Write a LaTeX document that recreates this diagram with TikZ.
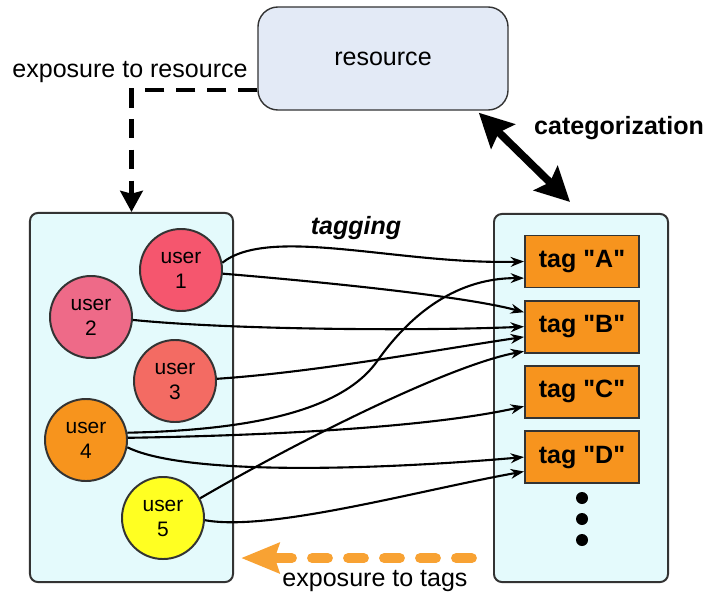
\documentclass[tikz,border=0pt]{standalone}
\usepackage{fontspec}
\setmainfont{Liberation Sans}[Ligatures=TeXOff]
\usepackage{tikz}
\usetikzlibrary{arrows.meta,shapes,positioning,calc}
\definecolor{resfill}{HTML}{E3EAF6}
\definecolor{boxfill}{HTML}{E4FAFC}
\definecolor{edgegray}{HTML}{333333}
\definecolor{tagorange}{HTML}{F7941E}
\definecolor{exporange}{HTML}{F8A233}
\definecolor{userone}{HTML}{F5566E}
\definecolor{usertwo}{HTML}{EE6A88}
\definecolor{userthree}{HTML}{F36B63}
\definecolor{userfour}{HTML}{F7941D}
\definecolor{userfive}{HTML}{FFFF22}

\begin{document}
\begin{tikzpicture}[x=0.025cm, y=-0.025cm]
% STYLES
\tikzset{%
    resbox/.style={%
    rectangle,
    rounded corners=0.5cm,
    draw=edgegray,
    line width=1pt,
    fill=resfill,
    minimum width=6.25cm,
    minimum height=2.575cm,
    font=\fontsize{17.8}{20}\selectfont}
    }
\tikzset{%
    bigbox/.style={%
    rectangle,
    rounded corners=0.2cm,
    draw=edgegray,
    line width=1.4pt,
    fill=boxfill}
    }
\tikzset{%
    usernode/.style={%
    circle,
    draw=edgegray,
    line width=1.4pt,
    inner sep=0pt,
    minimum size=2.05cm,
    align=center,
    font=\fontsize{14.9}{17.8}\selectfont}
    }
\tikzset{%
    tagnode/.style={%
    rectangle,
    draw=edgegray,
    line width=1.4pt,
    fill=tagorange,
    node distance=0.28cm,
    minimum width=2.85cm,
    minimum height=1.3cm,
    font=\bfseries\fontsize{17.8}{20}\selectfont}
    }
\tikzset{%
    plaintext/.style={%
    font=\fontsize{17.8}{20}\selectfont}
    }
\tikzset{%
    tagline/.style={%
    line width=1.5pt,
    -{Stealth[length=9.5pt,width=7pt]}}
    }
\useasboundingbox (0,0) rectangle (716,597);

% Draw boxes
\node [resbox] (res) at (383,58.5) {resource};
\node [bigbox, minimum width=5.075cm, minimum height=9.225cm] (userbox) at (131.5,397.5) {};
\node [bigbox, minimum width=4.35cm, minimum height=9.2cm] (tagbox) at (581,398) {};

% Draw users
\node [usernode, fill=userone] (u1) at (181,270) {user\\1};
\node [usernode, fill=usertwo] (u2) at (91,317) {user\\2};
\node [usernode, fill=userthree] (u3) at (175,381) {user\\3};
\node [usernode, fill=userfour] (u4) at (86,440) {user\\4};
\node [usernode, fill=userfive] (u5) at (163,518) {user\\5};

% Draw tags
\node [tagnode] (tA) at (582,261.5) {tag "A"};
\node [tagnode, below=of tA] (tB) {tag "B"};
\node [tagnode, below=of tB] (tC) {tag "C"};
\node [tagnode, below=of tC] (tD) {tag "D"};
\fill (582,498) circle (0.15cm);
\fill (582,519) circle (0.15cm);
\fill (582,540) circle (0.15cm);

% Labels
\node [plaintext] (exptext) at (130,72) {exposure to resource};
\node [plaintext, font=\bfseries\fontsize{17.8}{20}\selectfont] (cattext) at (619,128) {categorization};
\node [plaintext, font=\bfseries\itshape\fontsize{17.8}{20}\selectfont] (tagtext) at (356,228) {tagging};
\node [plaintext] (exptagtext) at (375,581) {exposure to tags};

% Draw the tagging links
\draw [tagline] (u1.10) .. controls (270,225) and (400,265) .. (tA.west);
\draw [tagline] (u1.-5) .. controls (300,280) and (460,295) .. (tB.166);
\draw [tagline] (u2.-4) .. controls (233,330) and (425,331) .. (tB.west);
\draw [tagline] (u3.3) .. controls (317,372) and (435,350) .. (tB.190);
\draw [tagline] (u4.10) .. controls (260,430) and (345,408) .. (378,360)
    .. controls (405,322) and (450,278) .. (tA.196);
\draw [tagline] (u4.3) .. controls (300,435) and (440,425) .. (tC.194);
\draw [tagline] (u4.-10) .. controls (190,478) and (400,468) .. (tD.west);
\draw [tagline] (u5.28) .. controls (300,440) and (450,365) .. (tB.203);
\draw [tagline] (u5.-3) .. controls (270,532) and (420,490) .. (tD.194);

% Exposure and categorization
\draw [line width=3pt, dash pattern=on 14pt off 8pt,
    -{Stealth[length=15pt,width=16pt,inset=2pt]}] (res.194) -| (userbox.north);
\draw [line width=5.5pt, {Stealth[length=24pt,width=24pt,inset=4pt]}-{Stealth[length=24pt,width=24pt,inset=4pt]}]
    ($(res.south east)+(-30,2)$) -- ($(tagbox.north)+(-11,-11)$);
\draw [exporange, line width=7pt, line cap=round, dash pattern=on 11.4pt off 14.2pt,
    -{Stealth[length=27pt,width=21pt,inset=3pt]}]
    ($(tagbox.south west)+(-21,-25)$) -- ($(userbox.south east)+(7,-25)$);
\end{tikzpicture}
\end{document}
